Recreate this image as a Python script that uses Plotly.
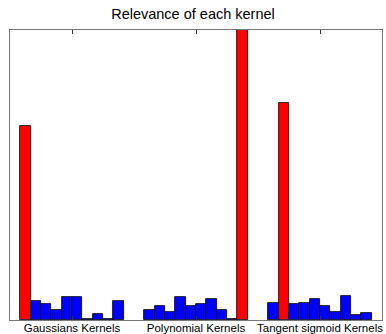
import plotly.graph_objects as go

group_labels = ["Gaussians Kernels", "Polynomial Kernels", "Tangent sigmoid Kernels"]
gaussian_vals = [0.669, 0.067, 0.056, 0.036, 0.078, 0.078, 0.002, 0.022, 0.004, 0.067]
poly_vals = [0.035, 0.048, 0.027, 0.081, 0.050, 0.056, 0.073, 0.036, 0.004, 1.000]
tanh_vals = [0.058, 0.750, 0.055, 0.059, 0.074, 0.048, 0.027, 0.084, 0.017, 0.023]
group_starts = [1, 13, 25]

groups = [gaussian_vals, poly_vals, tanh_vals]
xs, ys, cols = [], [], []
for start, vals in zip(group_starts, groups):
    m = max(vals)
    for i, v in enumerate(vals):
        xs.append(start + i + 0.5)
        ys.append(v)
        cols.append("#FF0000" if v == m else "#0000FF")

tick_pos = [s + 5 for s in group_starts]

fig = go.Figure(go.Bar(
    x=xs, y=ys, width=1,
    marker=dict(color=cols, line=dict(color="#000000", width=0.8)),
))
fig.update_layout(
    width=386, height=334,
    margin=dict(l=10, r=4, t=30, b=14),
    paper_bgcolor="white", plot_bgcolor="white",
    showlegend=False, bargap=0,
    title=dict(text="Relevance of each kernel", x=0.5, xanchor="center",
               y=1 - 14 / 334, yanchor="middle",
               font=dict(family="Liberation Sans, Arial", size=14.5, color="#000")),
    font=dict(family="Liberation Sans, Arial", size=12, color="#000"),
)
fig.update_xaxes(range=[0, 36], tickvals=tick_pos, ticktext=group_labels,
                 showgrid=False, zeroline=False, showline=True, linecolor="#777",
                 linewidth=1, mirror="ticks", ticks="inside", ticklen=4,
                 tickcolor="#333", tickfont=dict(size=11.5), ticklabelstandoff=-3,
                 automargin=False)
fig.update_yaxes(range=[0, 1], showticklabels=False, ticks="", showgrid=False,
                 zeroline=False, showline=True, linecolor="#777", linewidth=1,
                 mirror=True, automargin=False)
fig.write_html("out.html")
